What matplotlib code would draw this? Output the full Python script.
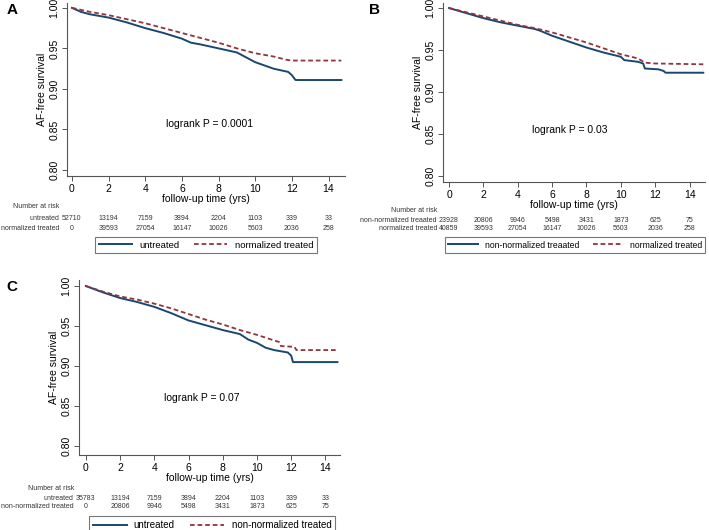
import matplotlib
matplotlib.use('Agg')
from matplotlib import pyplot as plt
from matplotlib import transforms

plt.rcParams['font.family'] = ['Liberation Sans', 'DejaVu Sans']

W, H = 709, 530
navy = '#1a476f'
maroon = '#90353b'

# --- panel A: untreated vs normalized treated ---
a_t1 = [0, 0.5, 1, 2, 3, 4, 5, 6, 6.5, 7, 8, 9, 9.5, 10, 10.5, 11, 11.8, 12.0, 12.2, 14.7]
a_s1 = [1.0, 0.995, 0.992, 0.988, 0.982, 0.975, 0.969, 0.962, 0.957, 0.955, 0.950, 0.945,
        0.939, 0.933, 0.929, 0.925, 0.921, 0.917, 0.911, 0.911]
a_t2 = [0, 1, 2, 3, 4, 5, 6, 7, 8, 9, 10, 11, 11.7, 12, 14.7]
a_s2 = [1.0, 0.995, 0.991, 0.986, 0.981, 0.975, 0.969, 0.963, 0.957, 0.950, 0.944, 0.940,
        0.936, 0.935, 0.935]
a_risk1 = [52710, 13194, 7159, 3894, 2204, 1103, 339, 33]
a_risk2 = [0, 39593, 27054, 16147, 10026, 5603, 2036, 258]

# --- panel B: non-normalized treated vs normalized treated ---
b_t1 = [0, 1, 2, 3, 4, 5, 5.3, 6, 7, 8, 9, 10, 10.2, 11, 11.3, 11.4, 12.2, 12.5, 12.6, 14.8]
b_s1 = [1.0, 0.994, 0.988, 0.983, 0.979, 0.975, 0.973, 0.967, 0.960, 0.953, 0.947, 0.942,
        0.938, 0.936, 0.934, 0.928, 0.927, 0.925, 0.923, 0.923]
b_t2 = [0, 1, 2, 3, 4, 5, 6, 7, 8, 9, 10, 11, 11.4, 12, 14.8]
b_s2 = [1.0, 0.995, 0.990, 0.985, 0.980, 0.976, 0.971, 0.965, 0.959, 0.952, 0.945, 0.940,
        0.935, 0.934, 0.933]
b_risk1 = [23928, 20806, 9946, 5498, 3431, 1873, 625, 75]
b_risk2 = [40859, 39593, 27054, 16147, 10026, 5603, 2036, 258]

# --- panel C: untreated vs non-normalized treated ---
c_t1 = [0, 1, 2, 3, 4, 5, 6, 6.5, 7, 8, 9, 9.5, 10, 10.5, 11, 11.8, 12.0, 12.1, 14.7]
c_s1 = [1.0, 0.992, 0.985, 0.980, 0.974, 0.966, 0.957, 0.954, 0.951, 0.945, 0.940, 0.933,
        0.929, 0.923, 0.920, 0.917, 0.913, 0.905, 0.905]
c_t2 = [0, 1, 2, 3, 4, 5, 6, 7, 8, 9, 10, 11, 11.3, 11.4, 12.2, 12.3, 14.7]
c_s2 = [1.0, 0.993, 0.987, 0.983, 0.978, 0.972, 0.965, 0.958, 0.952, 0.945, 0.939, 0.932,
        0.930, 0.925, 0.924, 0.920, 0.920]
c_risk1 = [35783, 13194, 7159, 3894, 2204, 1103, 339, 33]
c_risk2 = [0, 20806, 9946, 5498, 3431, 1873, 625, 75]

risk_times = [0, 2, 4, 6, 8, 10, 12, 14]
yticks = [0.80, 0.85, 0.90, 0.95, 1.00]


def fy(py):
    return 1 - py / H


def panel(fig, box, xlim, ylim, letter, letter_xy, t1, s1, t2, s2, names, risk1, risk2,
          pval, pxy, rows_y, leg_xy, leg_fs):
    left, right, top, bottom = box
    ax = fig.add_axes([left / W, fy(bottom), (right - left) / W, (bottom - top) / H])
    ax.plot(t1, s1, color=navy, lw=1.4, label=names[0])
    ax.plot(t2, s2, color=maroon, lw=1.3, ls=(0, (2.6, 1.6)), label=names[1])
    ax.set_xlim(*xlim)
    ax.set_ylim(*ylim)
    ax.set_xticks(range(0, 15, 2))
    ax.set_yticks(yticks)
    ax.set_yticklabels(['%.2f' % v for v in yticks], rotation=90, va='center')
    for s in ['top', 'right']:
        ax.spines[s].set_visible(False)
    for s in ['left', 'bottom']:
        ax.spines[s].set_color('#555555')
        ax.spines[s].set_linewidth(0.8)
    ax.tick_params(labelsize=7.5, length=3.5, width=0.7, color='#555555', pad=2)
    ax.set_xlabel('follow-up time (yrs)', fontsize=7.5, labelpad=0)
    ax.set_ylabel('AF-free survival', fontsize=7.5, labelpad=2)
    ax.text(pxy[0], pxy[1], pval, fontsize=7.5, ha='center', va='center')

    fig.text(letter_xy[0] / W, fy(letter_xy[1]), letter, fontsize=11, fontweight='bold',
             ha='center', va='center')

    # number at risk table
    tr = transforms.blended_transform_factory(ax.transData, fig.transFigure)
    lab_x = -0.7
    ax.text(lab_x, fy(rows_y[0]), 'Number at risk', transform=tr, fontsize=5, ha='right',
            va='center', color='#333333', clip_on=False)
    for name, risk, py in [(names[0], risk1, rows_y[1]), (names[1], risk2, rows_y[2])]:
        ax.text(lab_x, fy(py), name, transform=tr, fontsize=5, ha='right', va='center',
                color='#333333', clip_on=False)
        for t, n in zip(risk_times, risk):
            ax.text(t, fy(py), str(n), transform=tr, fontsize=5, ha='center', va='center',
                    color='#333333', clip_on=False)

    leg = ax.legend(loc='center', bbox_to_anchor=(leg_xy[0] / W, fy(leg_xy[1])),
                    bbox_transform=fig.transFigure, ncol=2, fontsize=leg_fs, fancybox=False,
                    edgecolor='#555555', handlelength=3.5, columnspacing=1.6,
                    borderpad=0.4, handletextpad=0.75, borderaxespad=0)
    leg.get_frame().set_linewidth(0.8)
    return ax


fig = plt.figure(figsize=(W / 100, H / 100), dpi=100)

panel(fig, (67, 345, 3, 176), (-0.27, 14.9), (0.7926, 1.006), 'A', (12, 10),
      a_t1, a_s1, a_t2, a_s2, ['untreated', 'normalized treated'], a_risk1, a_risk2,
      'logrank P = 0.0001', (7.5, 0.857), (207, 218, 228), (206, 245), 6.8)

panel(fig, (443, 705, 3, 182), (-0.35, 14.9), (0.7929, 1.006), 'B', (375, 10),
      b_t1, b_s1, b_t2, b_s2, ['non-normalized treaated', 'normalized treated'], b_risk1, b_risk2,
      'logrank P = 0.03', (7.0, 0.8545), (211, 220, 228), (575, 245), 6.2)

panel(fig, (79, 340, 280, 455), (-0.4, 14.85), (0.789, 1.0075), 'C', (12, 287),
      c_t1, c_s1, c_t2, c_s2, ['untreated', 'non-normalized treated'], c_risk1, c_risk2,
      'logrank P = 0.07', (6.8, 0.86), (488, 498, 507), (212, 525), 7.0)

fig.savefig('out.png', dpi=100)
